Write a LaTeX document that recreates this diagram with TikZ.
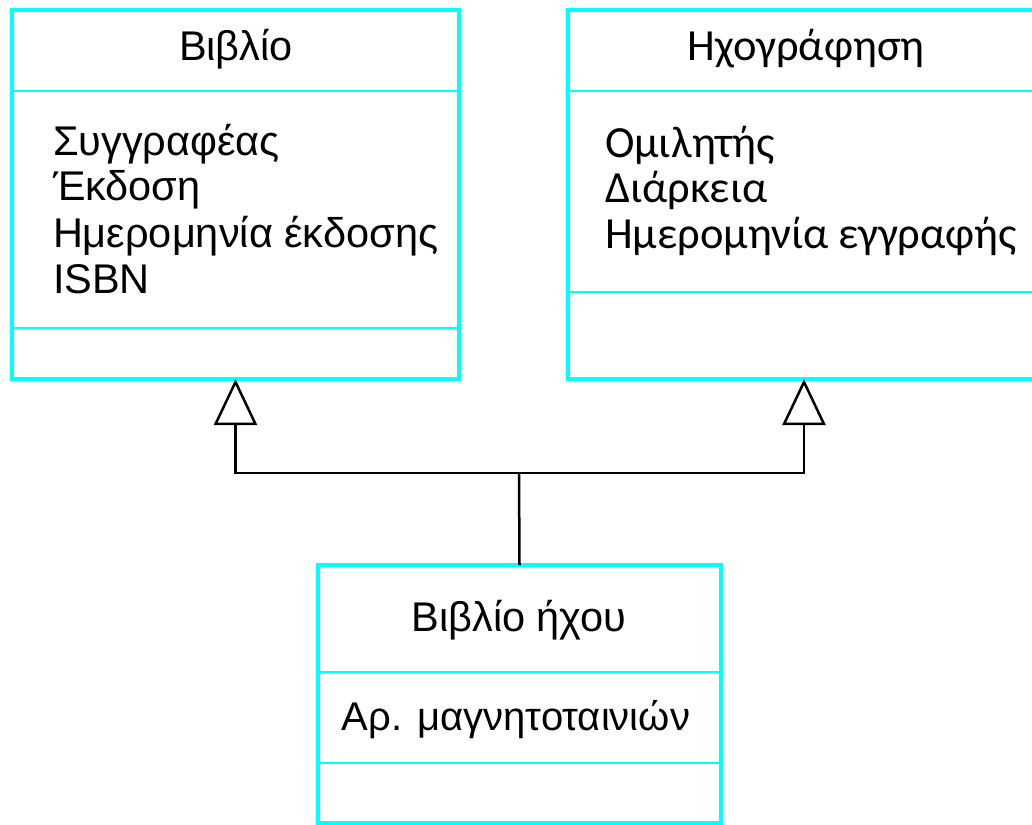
\documentclass[tikz,border=0pt]{standalone}
\usepackage{fontspec}
\setmainfont{Liberation Sans}
\newfontfamily\recfont{Carlito}
\usetikzlibrary{arrows.meta}
\definecolor{boxcyan}{HTML}{00FFFF}
\tikzset{
  classbox/.style={draw=boxcyan, line width=4pt, fill=white, inner sep=0pt, outer sep=0pt},
  divider/.style={draw=boxcyan, line width=2pt},
  txt/.style={inner sep=0pt, outer sep=0pt, font=\fontsize{41.5}{46}\selectfont},
  smtxt/.style={inner sep=0pt, outer sep=0pt, font=\fontsize{40}{46}\selectfont},
  rtxt/.style={inner sep=0pt, outer sep=0pt, font=\recfont\fontsize{44.5}{52}\selectfont},
  conn/.style={draw=black, line width=2.5pt},
  inh/.style={conn, -{Triangle[open, width=43pt, length=46pt, line width=2.5pt]}}
}
\begin{document}
\begin{tikzpicture}[x=1pt, y=-1pt]
\useasboundingbox (0,0) rectangle (1032,824);
\clip (0,0) rectangle (1032,824);
\fill[white] (0,0) rectangle (1032,824);
% Boxes
\node[classbox, minimum width=447pt, minimum height=369pt] (book) at (235.5,194.5) {};
\node[classbox, minimum width=472pt, minimum height=369pt] (rec) at (804,194.5) {};
\node[classbox, minimum width=403pt, minimum height=258pt] (audio) at (519.5,694) {};
% Dividers
\draw[divider] (book.west |- 0,91) -- (book.east |- 0,91);
\draw[divider] (book.west |- 0,328) -- (book.east |- 0,328);
\draw[divider] (rec.west |- 0,91) -- (rec.east |- 0,91);
\draw[divider] (rec.west |- 0,292) -- (rec.east |- 0,292);
\draw[divider] (audio.west |- 0,672) -- (audio.east |- 0,672);
\draw[divider] (audio.west |- 0,763) -- (audio.east |- 0,763);
% Texts
\node[txt, anchor=base] (booktitle) at (236,61) {Βιβλίο};
\node[txt, anchor=base west] (b1) at (53,155) {Συγγραφέας};
\node[txt, anchor=base west] (b2) at (53,200) {Έκδοση};
\node[txt, anchor=base west] (b3) at (53,247) {Ημερομηνία έκδοσης};
\node[txt, anchor=base west] (b4) at (53,293) {ISBN};
\node[rtxt, anchor=base] (rectitle) at (806,61) {Ηχογράφηση};
\node[rtxt, anchor=base west] (r1) at (605,157) {Ομιλητής};
\node[rtxt, anchor=base west] (r2) at (605,202) {Διάρκεια};
\node[rtxt, anchor=base west] (r3) at (605,248) {Ημερομηνία εγγραφής};
\node[txt, anchor=base] (audiotitle) at (519,631) {Βιβλίο ήχου};
\node[smtxt, anchor=base] (a1) at (516,730) {Αρ. μαγνητοταινιών};
% Connectors
\coordinate (junction) at (519,473);
\draw[conn] (audio.north) -- (junction);
\draw[inh] (junction) -| (book.south);
\draw[inh] (junction) -| (rec.south);
\end{tikzpicture}
\end{document}
